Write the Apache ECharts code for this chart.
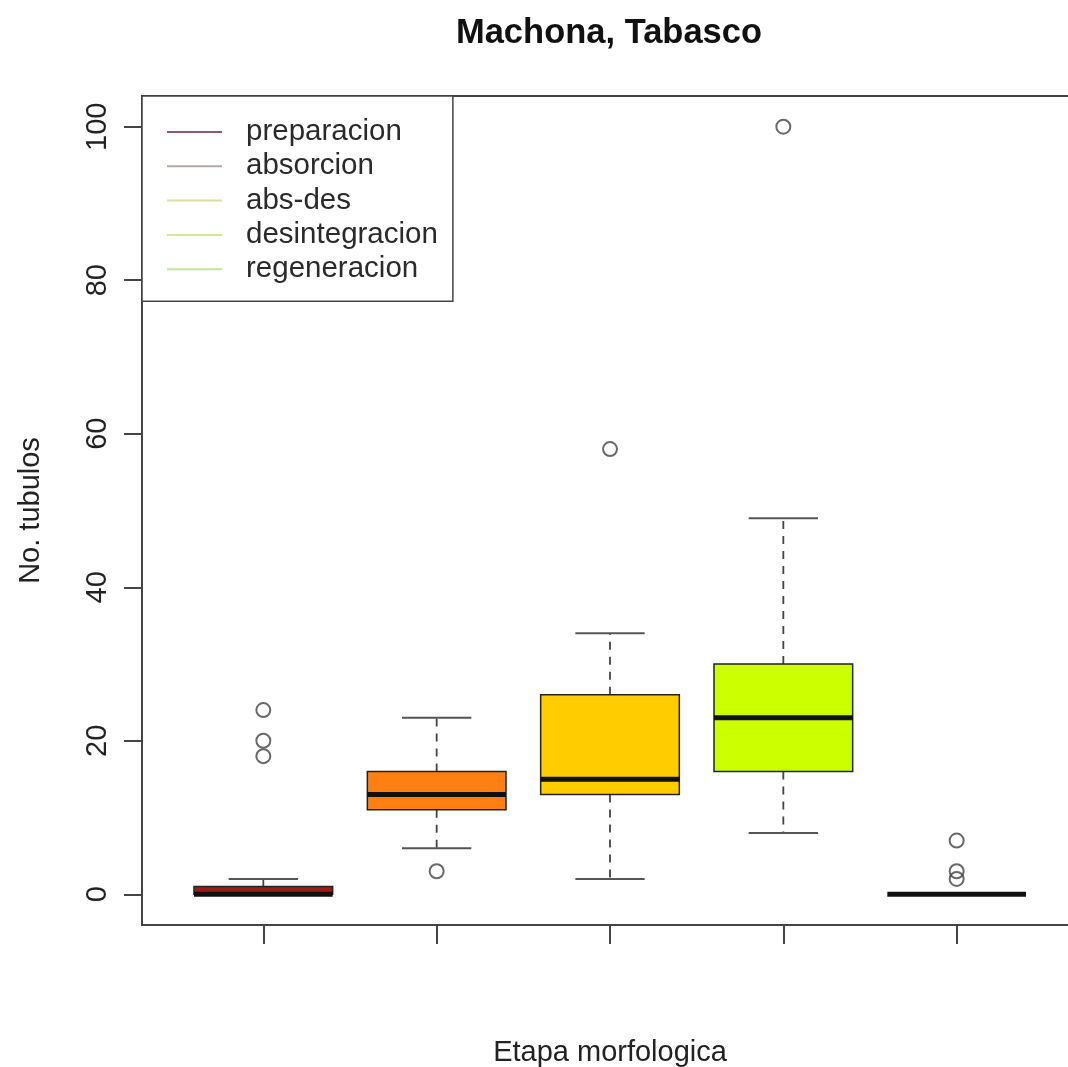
<!DOCTYPE html>
<html>
<head>
<meta charset="utf-8">
<script src="https://cdn.jsdelivr.net/npm/echarts@6/dist/echarts.min.js"></script>
<style>html,body{margin:0;padding:0;background:#fff;}#c{width:1068px;height:1067px;}</style>
</head>
<body>
<div id="c"></div>
<script>
const categories = ['preparacion', 'absorcion', 'abs-des', 'desintegracion', 'regeneracion'];
const whiskerLow = [0, 6, 2, 8, 0];
const q1 = [0, 11, 13, 16, 0];
const median = [0, 13, 15, 23, 0];
const q3 = [1, 16, 26, 30, 0];
const whiskerHigh = [2, 23, 34, 49, 0];
const outlierGroup = [1, 1, 1, 2, 3, 4, 5, 5, 5];
const outlierValue = [24, 20, 18, 3, 58, 100, 7, 3, 2];
const yTicks = [0, 20, 40, 60, 80, 100];
const xTicks = [1, 2, 3, 4, 5];
const boxColors = ['#9B1A1A', '#FF8012', '#FFCC00', '#CCFF00', '#99EE33'];
const legendColors = ['#8C5A68', '#B8A8A4', '#DCDFA2', '#D4E596', '#C4E498'];

const boxData = categories.map((c, i) => [i + 1, whiskerLow[i], q1[i], median[i], q3[i], whiskerHigh[i]]);
const outlierData = outlierGroup.map((g, i) => [g, outlierValue[i]]);

const chart = echarts.init(document.getElementById('c'));

function renderBox(params, api) {
  const x = api.value(0);
  const lo = api.value(1), a = api.value(2), m = api.value(3), b = api.value(4), hi = api.value(5);
  const xc = api.coord([x, 0])[0];
  const w = api.size([0.8, 0])[0];
  const y = v => api.coord([x, v])[1];
  const dash = { stroke: '#444', lineWidth: 1.8, lineDash: [8, 7] };
  const cap = { stroke: '#555', lineWidth: 2 };
  const children = [];
  if (hi > b) children.push({ type: 'line', shape: { x1: xc, y1: y(b), x2: xc, y2: y(hi) }, style: dash });
  if (lo < a) children.push({ type: 'line', shape: { x1: xc, y1: y(a), x2: xc, y2: y(lo) }, style: dash });
  if (hi > b) children.push({ type: 'line', shape: { x1: xc - w / 4, y1: y(hi), x2: xc + w / 4, y2: y(hi) }, style: cap });
  if (lo < a) children.push({ type: 'line', shape: { x1: xc - w / 4, y1: y(lo), x2: xc + w / 4, y2: y(lo) }, style: cap });
  if (b > a) children.push({ type: 'rect', shape: { x: xc - w / 2, y: y(b), width: w, height: y(a) - y(b) },
    style: { fill: boxColors[params.dataIndex], stroke: '#222', lineWidth: 1.5 } });
  children.push({ type: 'line', shape: { x1: xc - w / 2, y1: y(m), x2: xc + w / 2, y2: y(m) },
    style: { stroke: '#111', lineWidth: 5 } });
  return { type: 'group', children: children };
}

const legendSeries = categories.map((c, i) => ({
  type: 'line', name: c, data: [], symbol: 'none',
  lineStyle: { color: legendColors[i], width: 2 }, itemStyle: { color: legendColors[i] }
}));

chart.setOption({
  animation: false,
  backgroundColor: '#fff',
  title: {
    text: 'Machona, Tabasco', left: 604, top: 11, textAlign: 'center',
    textStyle: { fontFamily: 'Liberation Sans', fontWeight: 'bold', fontSize: 34.5, color: '#111' }
  },
  legend: {
    orient: 'vertical', left: 142, top: 96,
    data: categories,
    icon: 'rect', itemWidth: 55, itemHeight: 2, itemGap: 0.3,
    padding: [19, 15, 15, 25],
    borderColor: '#444', borderWidth: 1.5, backgroundColor: '#fff',
    selectedMode: false,
    textStyle: { fontFamily: 'Liberation Sans', fontSize: 29.5, color: '#2a2a2a', lineHeight: 34, padding: [0, 0, 0, 19] }
  },
  grid: { left: 142, top: 96, right: -10, bottom: 142, outerBoundsMode: 'none', containLabel: false,
    show: true, borderColor: '#444', borderWidth: 2, backgroundColor: 'transparent' },
  xAxis: {
    type: 'value', min: 0.3, max: 5.7,
    axisLine: { show: false, onZero: false },
    splitLine: { show: false },
    axisTick: { show: true, inside: false, length: 19, customValues: xTicks, lineStyle: { color: '#444', width: 2 } },
    axisLabel: { show: false },
    name: 'Etapa morfologica', nameLocation: 'middle', nameGap: 113,
    nameTextStyle: { fontFamily: 'Liberation Sans', fontSize: 29, color: '#222' }
  },
  yAxis: {
    type: 'value', min: -4, max: 104,
    axisLine: { show: false, onZero: false },
    splitLine: { show: false },
    axisTick: { show: true, inside: false, length: 18, customValues: yTicks, lineStyle: { color: '#444', width: 2 } },
    axisLabel: { show: true, customValues: yTicks, rotate: 90, margin: 30,
      fontFamily: 'Liberation Sans', fontSize: 29, color: '#222' },
    name: 'No. tubulos', nameLocation: 'middle', nameGap: 97, nameRotate: 90,
    nameTextStyle: { fontFamily: 'Liberation Sans', fontSize: 29, color: '#222' }
  },
  series: [
    { type: 'custom', renderItem: renderBox, data: boxData, encode: { x: 0, y: [1, 2, 3, 4, 5] }, z: 2, silent: true },
    { type: 'scatter', data: outlierData, symbol: 'circle', symbolSize: 14, z: 3, silent: true,
      itemStyle: { color: 'rgba(0,0,0,0)', borderColor: '#444', borderWidth: 2 } }
  ].concat(legendSeries)
});
</script>
</body>
</html>
